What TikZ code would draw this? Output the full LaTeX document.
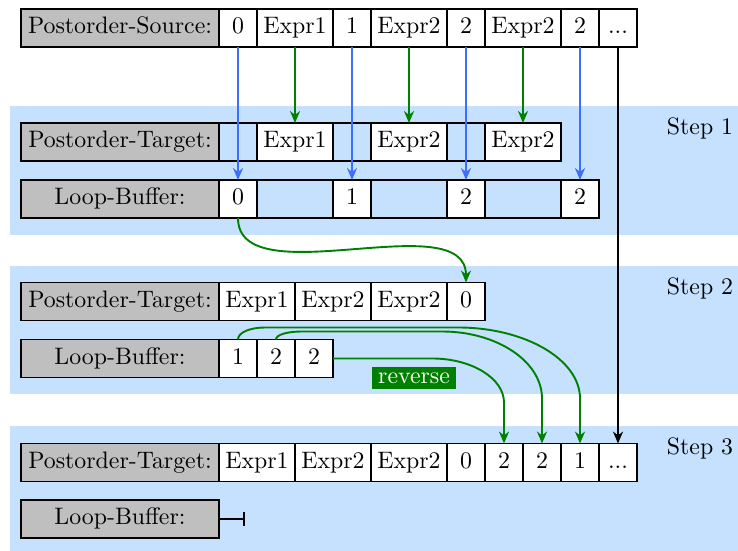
\documentclass[tikz,border=0pt]{standalone}
\usetikzlibrary{arrows.meta,calc}
\definecolor{bandblue}{RGB}{198,225,253}
\definecolor{labgray}{RGB}{191,191,191}
\definecolor{flowblue}{RGB}{60,110,255}
\definecolor{flowgreen}{RGB}{0,128,0}
\begin{document}
\begin{tikzpicture}[x=0.42pt,y=0.42pt,
  box/.style={draw, thick, outer sep=0pt, inner xsep=1pt, minimum height=15.96pt,
              text height=6.9pt, text depth=2pt, anchor=west},
  lab/.style={box, fill=labgray, minimum width=83.16pt},
  sc/.style={box, fill=white, minimum width=15.96pt},
  wc/.style={box, fill=white, minimum width=31.92pt},
  se/.style={box, minimum width=15.96pt},
  we/.style={box, minimum width=31.92pt},
  band/.style={fill=bandblue},
  steplab/.style={inner sep=0pt},
  revlab/.style={fill=flowgreen, text=white, inner xsep=2.5pt, inner ysep=2.5pt},
  flow/.style={thick, -{Stealth[length=5pt,width=4.2pt,inset=1.6pt]}},
  bflow/.style={flow, draw=flowblue},
  gflow/.style={flow, draw=flowgreen},
  kflow/.style={flow, draw=black},
]
\useasboundingbox (0,0) rectangle (738,-551);

% step bands
\fill[band] (10,-106) rectangle (738,-235);
\fill[band] (10,-266) rectangle (738,-394);
\fill[band] (10,-426) rectangle (738,-551);

\node[steplab] (st1) at (700,-128) {Step 1};
\node[steplab] (st2) at (700,-288) {Step 2};
\node[steplab] (st3) at (700,-448) {Step 3};

% source sequence
\node[lab] (ls) at (21,-28) {Postorder-Source:};
\node[sc] (s0)  at (ls.east)  {0};
\node[wc] (se1) at (s0.east)  {Expr1};
\node[sc] (s1)  at (se1.east) {1};
\node[wc] (se2) at (s1.east)  {Expr2};
\node[sc] (s2)  at (se2.east) {2};
\node[wc] (se3) at (s2.east)  {Expr2};
\node[sc] (s3)  at (se3.east) {2};
\node[sc] (sd)  at (s3.east)  {...};

% step 1
\node[lab] (lt1) at (21,-142) {Postorder-Target:};
\node[se] (t1a) at (lt1.east) {};
\node[wc] (t1b) at (t1a.east) {Expr1};
\node[se] (t1c) at (t1b.east) {};
\node[wc] (t1d) at (t1c.east) {Expr2};
\node[se] (t1e) at (t1d.east) {};
\node[wc] (t1f) at (t1e.east) {Expr2};

\node[lab] (lb1) at (21,-199) {Loop-Buffer:};
\node[sc] (b1a) at (lb1.east) {0};
\node[we] (b1b) at (b1a.east) {};
\node[sc] (b1c) at (b1b.east) {1};
\node[we] (b1d) at (b1c.east) {};
\node[sc] (b1e) at (b1d.east) {2};
\node[we] (b1f) at (b1e.east) {};
\node[sc] (b1g) at (b1f.east) {2};

% step 2
\node[lab] (lt2) at (21,-301.5) {Postorder-Target:};
\node[wc] (u1) at (lt2.east) {Expr1};
\node[wc] (u2) at (u1.east)  {Expr2};
\node[wc] (u3) at (u2.east)  {Expr2};
\node[sc] (u4) at (u3.east)  {0};

\node[lab] (lb2) at (21,-358.5) {Loop-Buffer:};
\node[sc] (v1) at (lb2.east) {1};
\node[sc] (v2) at (v1.east)  {2};
\node[sc] (v3) at (v2.east)  {2};

% step 3
\node[lab] (lt3) at (21,-462.5) {Postorder-Target:};
\node[wc] (w1) at (lt3.east) {Expr1};
\node[wc] (w2) at (w1.east)  {Expr2};
\node[wc] (w3) at (w2.east)  {Expr2};
\node[sc] (w4) at (w3.east)  {0};
\node[sc] (w5) at (w4.east)  {2};
\node[sc] (w6) at (w5.east)  {2};
\node[sc] (w7) at (w6.east)  {1};
\node[sc] (w8) at (w7.east)  {...};

\node[lab] (lb3) at (21,-519) {Loop-Buffer:};
\coordinate (lb3end) at ($(lb3.east)+(26,0)$);
\draw[thick, -{Bar[width=5.5pt]}] (lb3.east) -- (lb3end);

% source -> step 1
\draw[bflow] (s0.south) -- (b1a.north);
\draw[bflow] (s1.south) -- (b1c.north);
\draw[bflow] (s2.south) -- (b1e.north);
\draw[bflow] (s3.south) -- (b1g.north);
\draw[gflow] (se1.south) -- (t1b.north);
\draw[gflow] (se2.south) -- (t1d.north);
\draw[gflow] (se3.south) -- (t1f.north);
\draw[kflow] (sd.south) -- (w8.north);

% step 1 -> step 2
\draw[gflow] (b1a.south) to[out=-90,in=90,looseness=0.85] (u4.north);

% step 2 -> step 3 (reversed)
\node[revlab] (rev) at (414,-378) {reverse};
\draw[gflow] (v1.north) .. controls +(0,7) and +(-15,0) .. ++(27,12)
  -- ++(193,0) .. controls +(67,0) and +(0,39) .. ($(w7.north)+(0,45)$) -- (w7.north);
\draw[gflow] (v2.north) .. controls +(0,5) and +(-14,0) .. ++(26,8)
  -- ++(140,0) .. controls +(55,0) and +(0,37) .. ($(w6.north)+(0,45)$) -- (w6.north);
\draw[gflow] (v3.east) -- ++(99,0) .. controls +(40,0) and +(0,24) .. ($(w5.north)+(0,41)$) -- (w5.north);
\end{tikzpicture}
\end{document}
